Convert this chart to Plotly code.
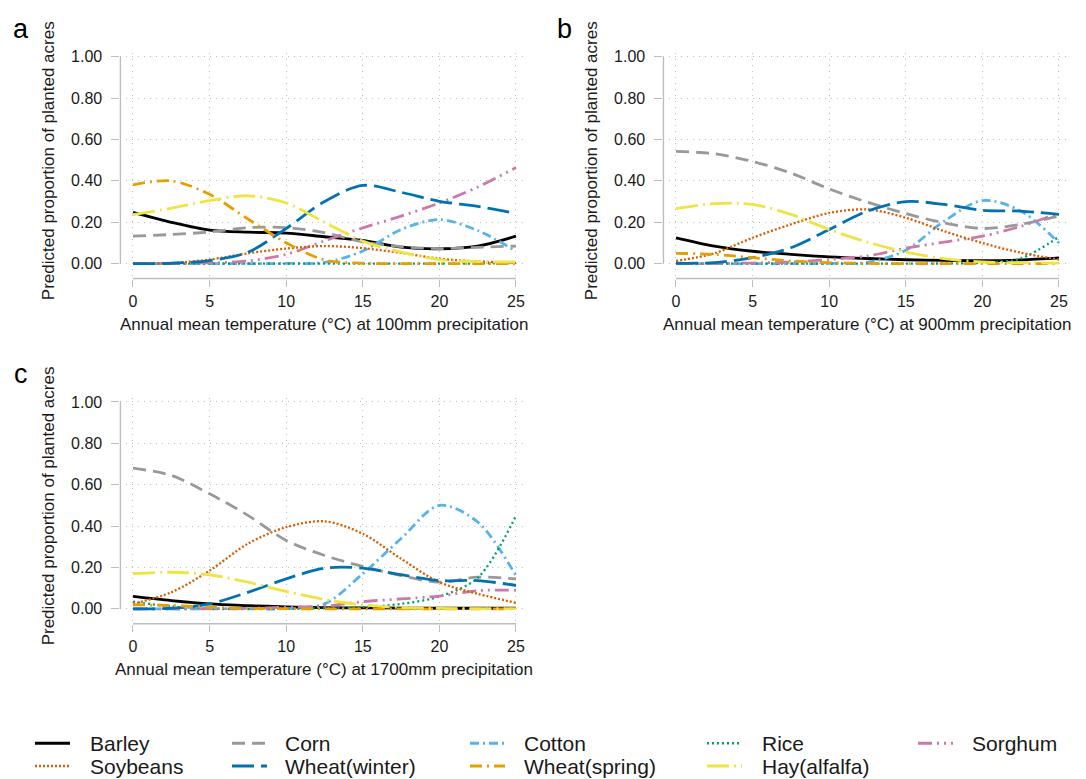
import plotly.graph_objects as go

W, H = 1086, 779

# ---------------- data ----------------
temps = [0, 2.5, 5, 7.5, 10, 12.5, 15, 17.5, 20, 22.5, 25]
crops = ["Barley", "Corn", "Cotton", "Rice", "Sorghum",
         "Soybeans", "Wheat(winter)", "Wheat(spring)", "Hay(alfalfa)"]
x_ticks = [0, 5, 10, 15, 20, 25]
y_ticks = [0, 0.2, 0.4, 0.6, 0.8, 1.0]
y_tick_labels = ["0.00", "0.20", "0.40", "0.60", "0.80", "1.00"]
precip_labels = ["100mm", "900mm", "1700mm"]
panel_letters = ["a", "b", "c"]

# panel a : 100 mm precipitation
barley_a   = [0.248, 0.200, 0.162, 0.152, 0.148, 0.130, 0.112, 0.080, 0.072, 0.085, 0.133]
corn_a     = [0.133, 0.141, 0.153, 0.174, 0.174, 0.150, 0.105, 0.082, 0.073, 0.079, 0.085]
cotton_a   = [0.000, 0.000, 0.000, 0.000, 0.001, 0.006, 0.061, 0.165, 0.213, 0.160, 0.060]
rice_a     = [0.000, 0.000, 0.000, 0.000, 0.000, 0.000, 0.000, 0.000, 0.000, 0.001, 0.003]
sorghum_a  = [0.000, 0.001, 0.004, 0.013, 0.045, 0.110, 0.173, 0.230, 0.293, 0.370, 0.465]
soybeans_a = [0.000, 0.003, 0.020, 0.050, 0.073, 0.085, 0.075, 0.052, 0.024, 0.011, 0.004]
winter_a   = [0.000, 0.002, 0.015, 0.055, 0.170, 0.300, 0.378, 0.345, 0.301, 0.277, 0.243]
spring_a   = [0.381, 0.400, 0.335, 0.216, 0.101, 0.018, 0.002, 0.000, 0.000, 0.000, 0.000]
hay_a      = [0.237, 0.268, 0.305, 0.328, 0.293, 0.200, 0.109, 0.056, 0.020, 0.010, 0.008]

# panel b : 900 mm precipitation
barley_b   = [0.125, 0.085, 0.060, 0.045, 0.033, 0.025, 0.019, 0.016, 0.014, 0.018, 0.028]
corn_b     = [0.543, 0.531, 0.494, 0.438, 0.361, 0.297, 0.242, 0.197, 0.170, 0.190, 0.230]
cotton_b   = [0.000, 0.000, 0.000, 0.000, 0.001, 0.006, 0.065, 0.205, 0.305, 0.255, 0.100]
rice_b     = [0.000, 0.000, 0.000, 0.000, 0.000, 0.000, 0.000, 0.001, 0.004, 0.025, 0.130]
sorghum_b  = [0.000, 0.001, 0.003, 0.008, 0.020, 0.037, 0.075, 0.104, 0.133, 0.180, 0.245]
soybeans_b = [0.013, 0.050, 0.125, 0.190, 0.245, 0.262, 0.222, 0.157, 0.100, 0.053, 0.020]
winter_b   = [0.002, 0.005, 0.029, 0.077, 0.165, 0.254, 0.300, 0.286, 0.258, 0.254, 0.238]
spring_b   = [0.050, 0.045, 0.029, 0.013, 0.005, 0.001, 0.000, 0.000, 0.000, 0.000, 0.000]
hay_b      = [0.266, 0.290, 0.286, 0.238, 0.165, 0.104, 0.056, 0.024, 0.008, 0.005, 0.003]

# panel c : 1700 mm precipitation
barley_c   = [0.060, 0.040, 0.024, 0.016, 0.010, 0.006, 0.005, 0.004, 0.003, 0.003, 0.003]
corn_c     = [0.680, 0.645, 0.556, 0.452, 0.331, 0.258, 0.205, 0.161, 0.129, 0.153, 0.145]
cotton_c   = [0.000, 0.000, 0.000, 0.000, 0.001, 0.024, 0.170, 0.340, 0.500, 0.420, 0.160]
rice_c     = [0.035, 0.012, 0.002, 0.000, 0.000, 0.003, 0.008, 0.024, 0.060, 0.150, 0.450]
sorghum_c  = [0.000, 0.000, 0.001, 0.003, 0.008, 0.013, 0.035, 0.048, 0.062, 0.088, 0.090]
soybeans_c = [0.024, 0.080, 0.185, 0.315, 0.395, 0.423, 0.363, 0.242, 0.129, 0.073, 0.029]
winter_c   = [0.000, 0.003, 0.024, 0.080, 0.145, 0.197, 0.197, 0.165, 0.137, 0.137, 0.113]
spring_c   = [0.020, 0.016, 0.008, 0.003, 0.001, 0.000, 0.000, 0.000, 0.000, 0.000, 0.000]
hay_c      = [0.170, 0.177, 0.165, 0.129, 0.084, 0.045, 0.019, 0.006, 0.002, 0.001, 0.001]

panel_values = [
    [barley_a, corn_a, cotton_a, rice_a, sorghum_a, soybeans_a, winter_a, spring_a, hay_a],
    [barley_b, corn_b, cotton_b, rice_b, sorghum_b, soybeans_b, winter_b, spring_b, hay_b],
    [barley_c, corn_c, cotton_c, rice_c, sorghum_c, soybeans_c, winter_c, spring_c, hay_c],
]

# ---------------- styles ----------------
styles = {
    "Barley":        dict(color="#000000", dash="solid",                       width=2.8),
    "Corn":          dict(color="#999999", dash="13px,7px",                    width=2.8),
    "Cotton":        dict(color="#56B4E9", dash="9px,4px,2px,4px",             width=2.8),
    "Rice":          dict(color="#009E73", dash="2px,3px",                     width=2.3),
    "Sorghum":       dict(color="#CC79A7", dash="14px,5px,2px,5px,2px,5px",    width=2.8),
    "Soybeans":      dict(color="#D55E00", dash="2px,2px",                     width=2.3),
    "Wheat(winter)": dict(color="#0072B2", dash="22px,7px",                    width=2.8),
    "Wheat(spring)": dict(color="#E69F00", dash="12px,5px,2px,5px",            width=2.8),
    "Hay(alfalfa)":  dict(color="#F0E442", dash="22px,5px,2px,5px",            width=2.8),
}

FONT = "Liberation Sans, Arial, Helvetica, sans-serif"
TXT = "#1a1a1a"
AXC = "#bdbdbd"
GRIDC = "#bfbfbf"

# panel geometry in pixels: data origin (x=0, y=0) and scale
XR = [-0.82, 25.7]
YR = [-0.072, 1.02]
SX, SY = 15.32, 208.0
panel_origin = [(133, 261), (676, 261), (133, 608)]

fig = go.Figure()
layout_axes = {}
shapes = []
annotations = []

for i, (ox, oy) in enumerate(panel_origin):
    s = "" if i == 0 else str(i + 1)
    xa, ya = "x" + s, "y" + s
    for name, vals in zip(crops, panel_values[i]):
        st = styles[name]
        fig.add_trace(go.Scatter(
            x=temps, y=vals, mode="lines", name=name, showlegend=False,
            line=dict(color=st["color"], dash=st["dash"], width=st["width"],
                      shape="spline", smoothing=0.9),
            xaxis=xa, yaxis=ya, hoverinfo="skip"))

    xd = [(ox + XR[0] * SX) / W, (ox + XR[1] * SX) / W]
    yd = [1 - (oy - YR[0] * SY) / H, 1 - (oy - YR[1] * SY) / H]
    layout_axes["xaxis" + s] = dict(
        domain=xd, range=XR, anchor=ya, tickmode="array", tickvals=x_ticks,
        ticktext=[str(v) for v in x_ticks], ticks="outside", ticklen=7,
        tickwidth=1.2, tickcolor=AXC, showline=False, zeroline=False,
        showgrid=True, gridcolor=GRIDC, gridwidth=1, griddash="1px,5px",
        tickfont=dict(size=16, color=TXT, family=FONT), ticklabelstandoff=1,
        fixedrange=True)
    layout_axes["yaxis" + s] = dict(
        domain=yd, range=YR, anchor=xa, tickmode="array", tickvals=y_ticks,
        ticktext=y_tick_labels, ticks="outside", ticklen=8,
        tickwidth=1.2, tickcolor=AXC, showline=False, zeroline=False,
        showgrid=True, gridcolor=GRIDC, gridwidth=1, griddash="1px,5px",
        tickfont=dict(size=16, color=TXT, family=FONT), ticklabelstandoff=6,
        fixedrange=True)

    # R-style axis lines spanning the tick range only
    shapes.append(dict(type="line", xref=xa, yref=ya + " domain",
                       x0=x_ticks[0], x1=x_ticks[-1], y0=0, y1=0,
                       line=dict(color=AXC, width=1.4)))
    shapes.append(dict(type="line", xref=xa + " domain", yref=ya,
                       x0=0, x1=0, y0=y_ticks[0], y1=y_ticks[-1],
                       line=dict(color=AXC, width=1.4)))

    yaxis_px = ox + XR[0] * SX
    annotations.append(dict(
        text="Predicted proportion of planted acres", textangle=-90,
        xref="paper", yref="paper", x=(yaxis_px - 72) / W,
        y=1 - (oy - 103.5) / H, showarrow=False, xanchor="center", yanchor="middle",
        font=dict(size=17, color=TXT, family=FONT)))
    annotations.append(dict(
        text="Annual mean temperature (°C) at " + precip_labels[i] + " precipitation",
        xref=xa, yref="paper", x=12.5, y=1 - (oy + 61) / H, showarrow=False,
        xanchor="center", yanchor="middle",
        font=dict(size=17, color=TXT, family=FONT)))
    annotations.append(dict(
        text=panel_letters[i], xref="paper", yref="paper",
        x=(ox - 112) / W, y=1 - (oy - 236) / H, showarrow=False,
        xanchor="center", yanchor="middle",
        font=dict(size=27, color="#000000", family=FONT)))

# ---------------- legend (two rows, five columns) ----------------
legend_rows_px = [743, 766]
legend_cols_px = [(35, 88), (232, 283), (470, 522), (707, 760), (918, 970)]
SAMPLE_W = 35
for k, name in enumerate(crops):
    r, c = divmod(k, 5)
    sx0, tx0 = legend_cols_px[c]
    yy = 1 - legend_rows_px[r] / H
    st = styles[name]
    shapes.append(dict(type="line", xref="paper", yref="paper",
                       x0=sx0 / W, x1=(sx0 + SAMPLE_W) / W, y0=yy, y1=yy,
                       line=dict(color=st["color"], dash=st["dash"], width=st["width"] + 0.3)))
    annotations.append(dict(text=name, xref="paper", yref="paper",
                            x=tx0 / W, y=yy, xanchor="left", yanchor="middle",
                            showarrow=False,
                            font=dict(size=21, color=TXT, family=FONT)))

fig.update_layout(
    width=W, height=H, margin=dict(l=0, r=0, t=0, b=0),
    paper_bgcolor="white", plot_bgcolor="white",
    showlegend=False, shapes=shapes, annotations=annotations,
    font=dict(family=FONT, color=TXT),
    **layout_axes)

fig.write_html(
    "out.html",
    config={"displayModeBar": False},
    post_script="document.body.style.margin='0';document.body.style.overflow='hidden';")
